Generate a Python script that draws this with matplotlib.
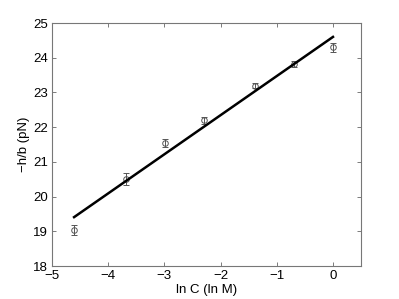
import matplotlib
matplotlib.use("Agg")
import matplotlib.pyplot as plt
import numpy as np

plt.rcParams['font.family'] = ['Liberation Sans', 'DejaVu Sans']

ln_c = [-4.605, -3.689, -2.996, -2.303, -1.386, -0.693, 0.0]
h_over_b = [19.04, 20.50, 21.55, 22.20, 23.20, 23.82, 24.30]
err = [0.15, 0.17, 0.12, 0.10, 0.07, 0.10, 0.13]
fit_slope = 1.127
fit_intercept = 24.60

xticks = [-5, -4, -3, -2, -1, 0]
yticks = [18, 19, 20, 21, 22, 23, 24, 25]

fig = plt.figure(figsize=(3.99, 2.99), dpi=100)
ax = fig.add_axes([0.130, 0.110, 0.775, 0.813])

xf = np.array([min(ln_c), max(ln_c)])
ax.plot(xf, fit_slope * xf + fit_intercept, color='black', lw=1.8, zorder=3)
ax.errorbar(ln_c, h_over_b, yerr=err, fmt='o', mfc='none', mec='#555555',
            ecolor='#555555', ms=4, mew=0.7, elinewidth=0.7, capsize=2.2,
            capthick=0.7, zorder=2)

ax.set_xlim(-5, 0.5)
ax.set_ylim(18, 25)
ax.set_xticks(xticks)
ax.set_yticks(yticks)
ax.set_xticklabels([f"\u2212{-t}" if t < 0 else str(t) for t in xticks])
ax.tick_params(direction='in', top=True, right=True, labelsize=9.5,
               length=3, width=0.6, color='#666666', pad=3)
for s in ax.spines.values():
    s.set_color('#777777')
    s.set_linewidth(0.8)
ax.set_xlabel("ln C (ln M)", fontsize=9.5, labelpad=1)
ax.set_ylabel("\u2212h/b (pN)", fontsize=9.5, labelpad=2)

fig.savefig("out.png", dpi=100)
